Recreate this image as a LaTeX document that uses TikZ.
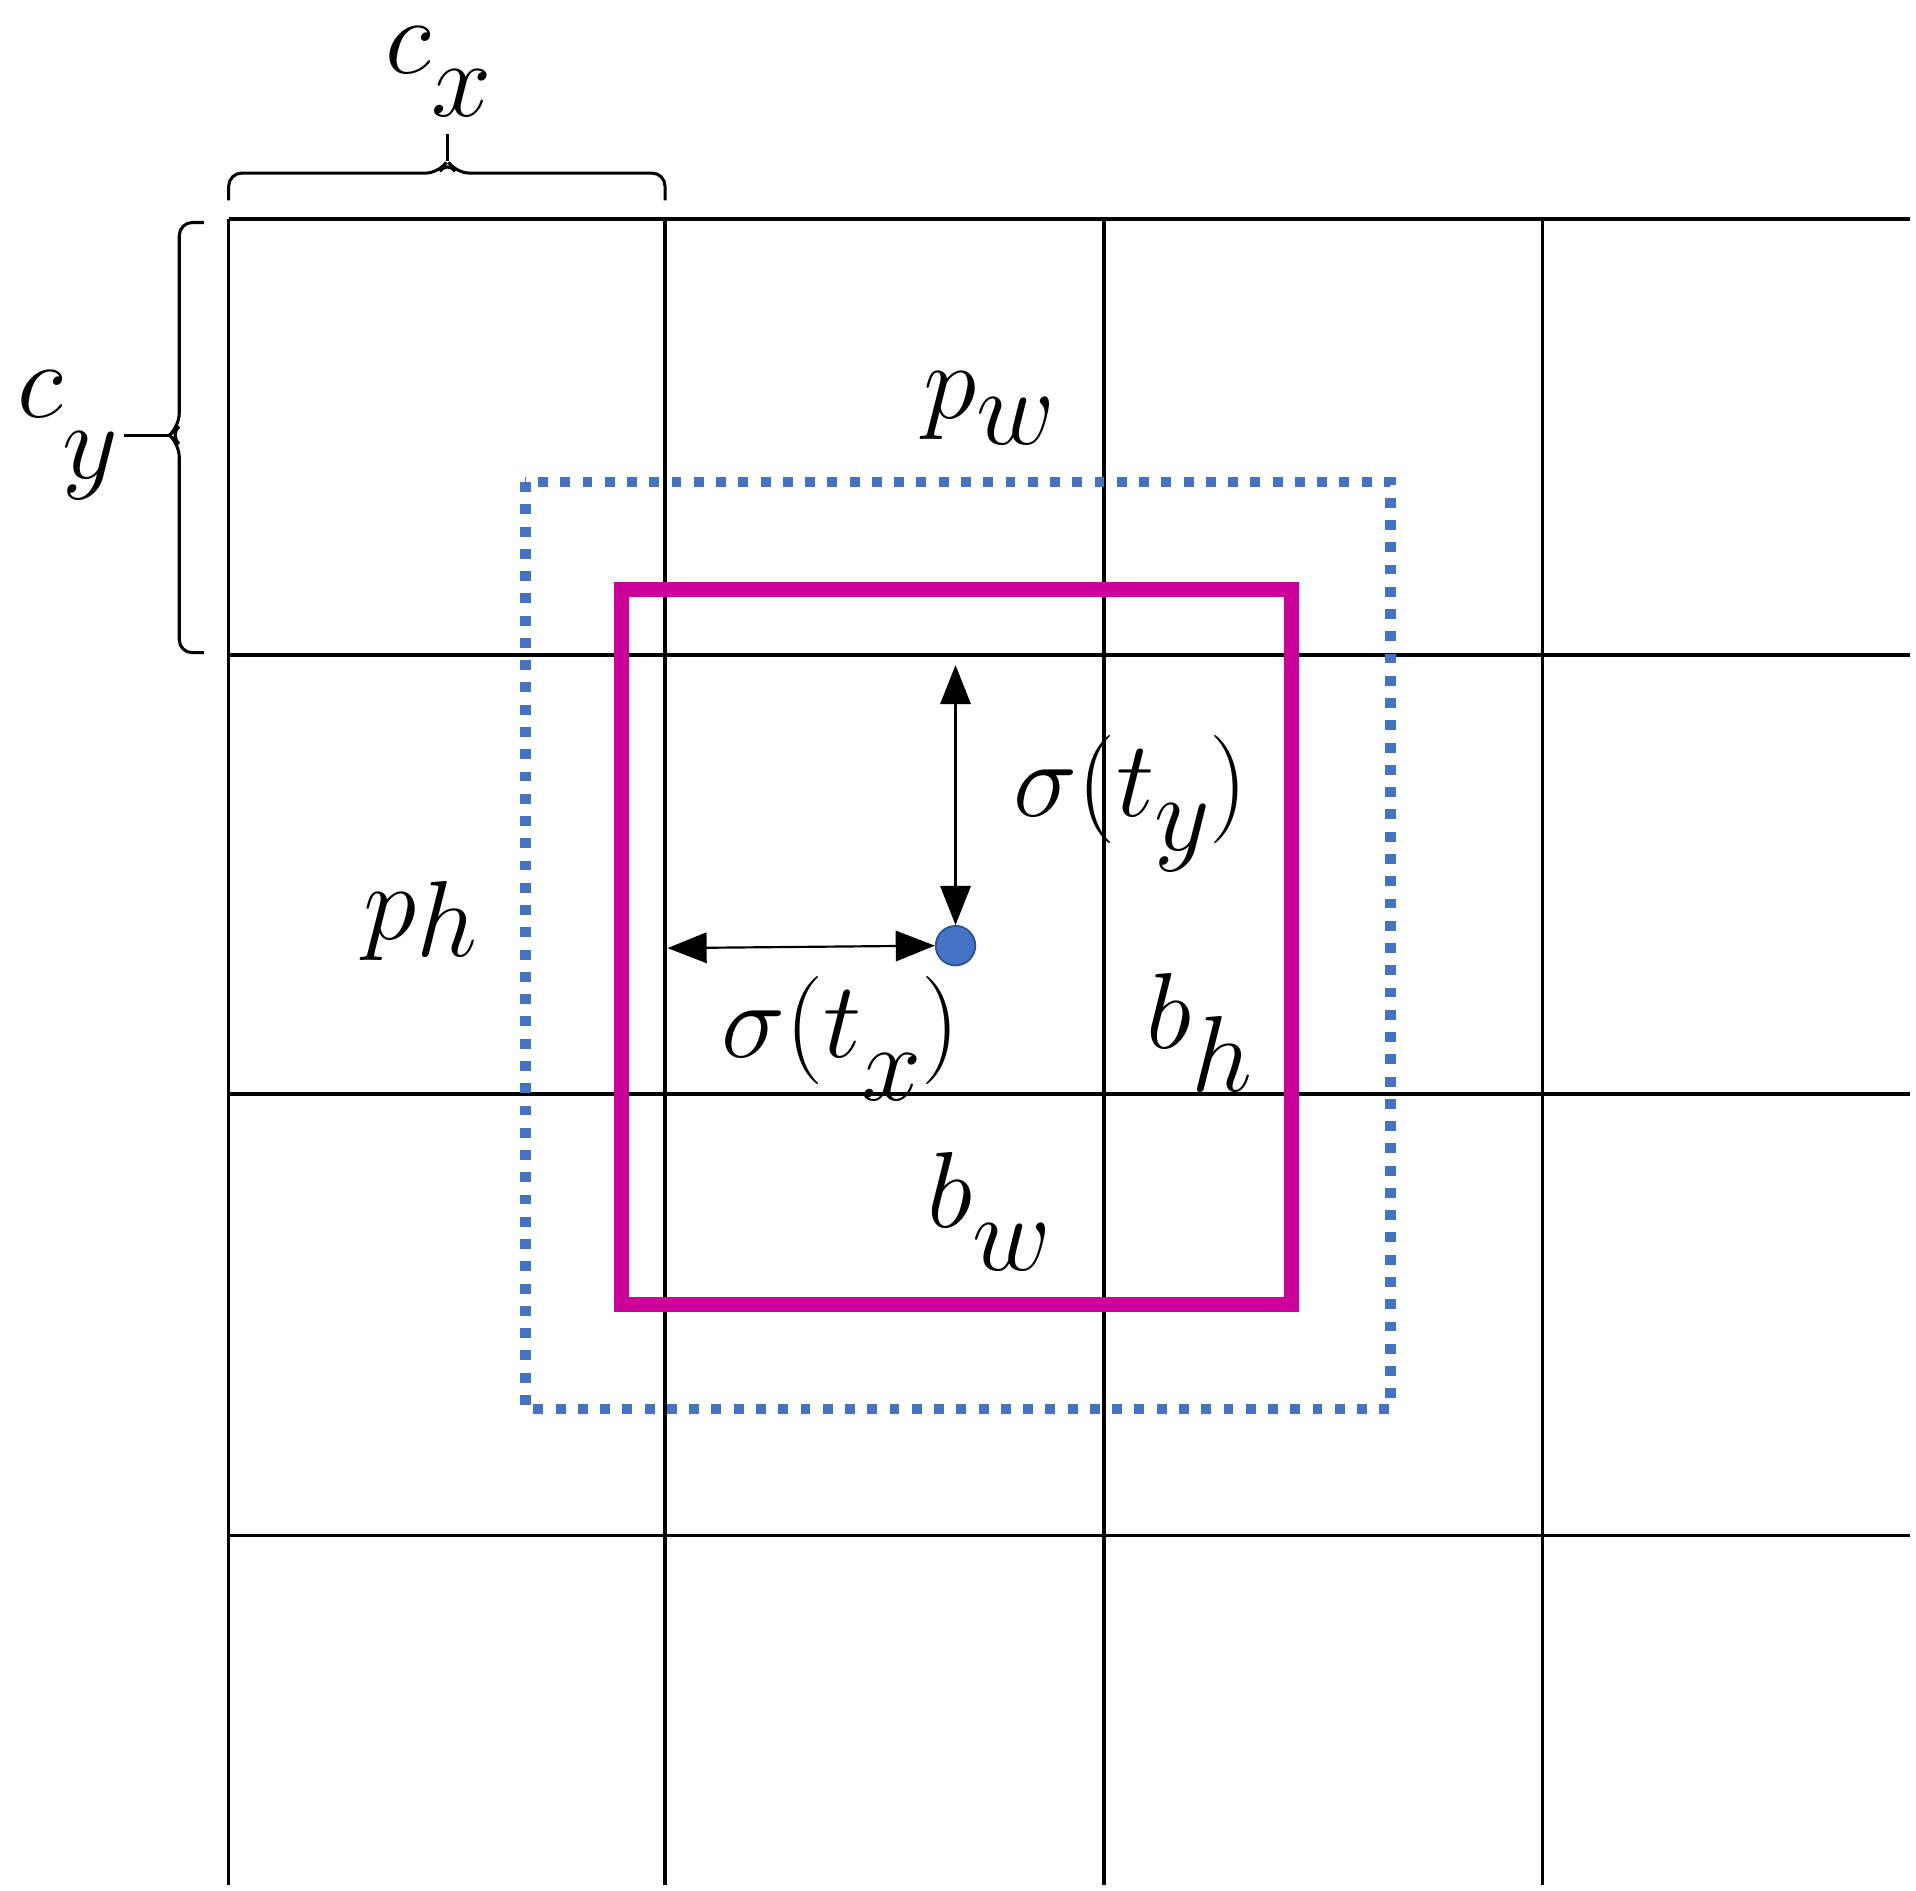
\documentclass[tikz,border=0pt]{standalone}
\usetikzlibrary{arrows.meta}
\definecolor{dotblue}{HTML}{4472C4}
\definecolor{mag}{HTML}{CC0099}
\newcommand{\subsc}[2]{\raisebox{#1}{\fontsize{26}{30}\selectfont$#2$}}
\begin{document}
\begin{tikzpicture}[x=0.01cm,y=-0.01cm,
  gridline/.style={line width=0.8pt,black},
  lbl/.style={font=\fontsize{40}{48}\selectfont,inner sep=1pt},
  brc/.style={line width=0.7pt,rounded corners=3pt},
  dbl/.style={{Triangle[length=9pt,width=7pt]}-{Triangle[length=9pt,width=7pt]},line width=0.5pt}]
\useasboundingbox (0,0) rectangle (1550,1529);
\foreach \x in {185,538,893,1248} \draw[gridline] (\x,177) -- (\x,1525);
\foreach \y in {177,530,885,1242} \draw[gridline] (185,\y) -- (1545,\y);
\coordinate (cxt) at (362,108);
\coordinate (cyt) at (100,352);
\draw[brc] (185,162) -- (185,140) -- (355,140) -- (362,130) -- (369,140) -- (538,140) -- (538,162);
\draw[brc] (362,130) -- (cxt);
\draw[brc] (165,180) -- (145,180) -- (145,345) -- (137,352) -- (145,359) -- (145,528) -- (165,528);
\draw[brc] (137,352) -- (cyt);
\node[lbl] (cx) at (355,58) {$c$\subsc{-10pt}{x}};
\node[lbl,anchor=east] (cy) at (cyt) {$c$\subsc{-14pt}{y}};
\draw[dotblue,line width=2.4pt,dash pattern=on 0.08cm off 0.1cm] (425,390) rectangle (1125,1140);
\draw[mag,line width=3.4pt] (503,477) rectangle (1045,1055);
\node[circle,fill=dotblue,draw=dotblue!70!black,minimum size=0.32cm,inner sep=0] (c) at (773,765) {};
\coordinate (top) at (773,538);
\coordinate (left) at (540,767);
\draw[dbl] (top) -- (c.north);
\draw[dbl] (left) -- (c.west);
\node[lbl] (pw) at (800,330) {$p$\subsc{-6pt}{w}};
\node[lbl] (ty) at (915,650) {$\sigma\Big(t$\subsc{-8pt}{y}$\Big)$};
\node[lbl] (ph) at (340,745) {$p$\subsc{-4pt}{h}};
\node[lbl] (tx) at (680,840) {$\sigma\Big(t$\subsc{-10pt}{x}$\Big)$};
\node[lbl] (bh) at (970,835) {$b$\subsc{-10pt}{h}};
\node[lbl] (bw) at (800,980) {$b$\subsc{-10pt}{w}};
\end{tikzpicture}
\end{document}
